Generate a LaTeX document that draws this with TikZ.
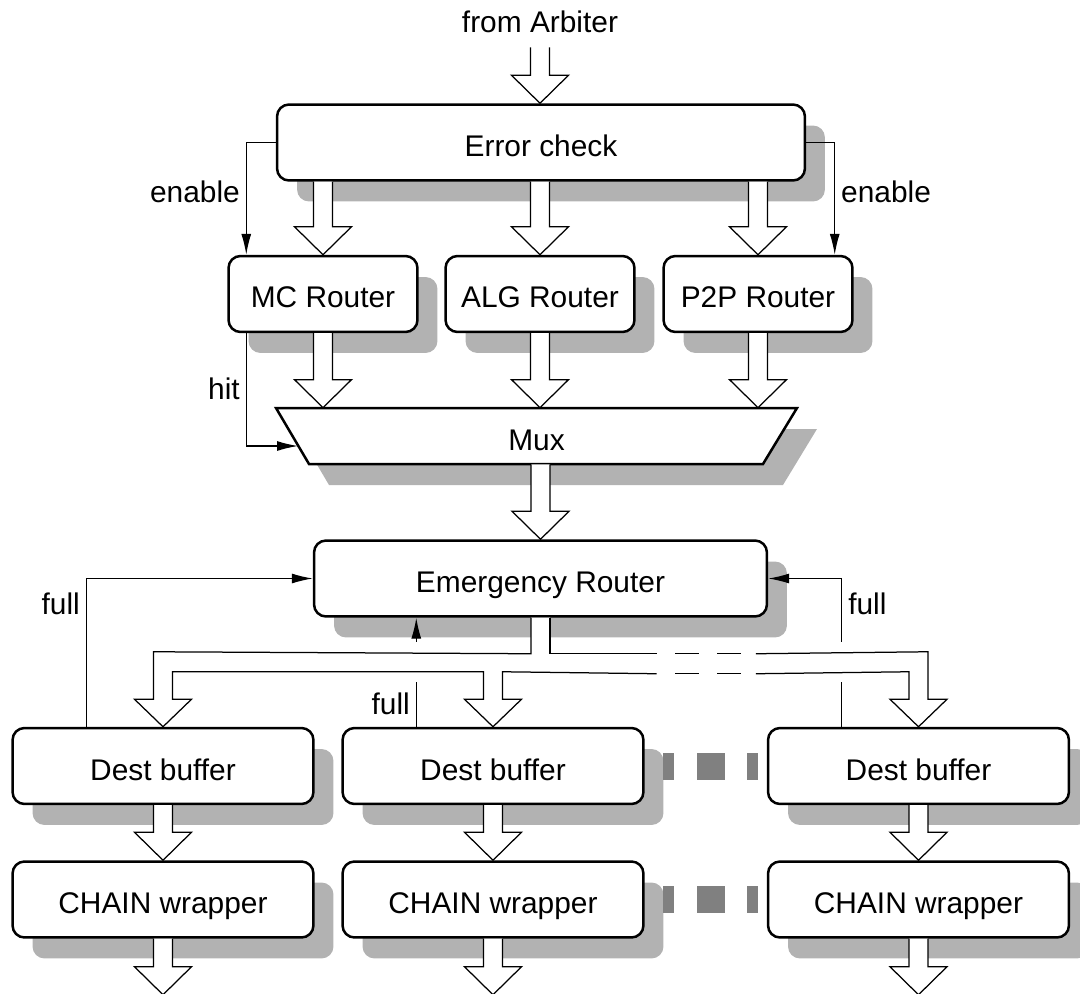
\documentclass[tikz,border=0pt]{standalone}
\usepackage{fontspec}
\setmainfont{Liberation Sans}
\usetikzlibrary{arrows.meta, calc, shadows}

\tikzset{
  box/.style={draw, line width=0.5mm, rounded corners=2.4mm, fill=white,
    minimum height=15.2mm, inner sep=0pt, text height=5.6mm, text depth=0mm,
    drop shadow={shadow xshift=4mm, shadow yshift=-4.2mm, fill=black!30, opacity=1}},
  sig/.style={line width=0.25mm},
  fat/.style={line width=0.25mm, fill=white},
  bushead/.style={insert path={-- ($(#1.north)+(-9.5,-27.5)$) -- ($(#1.north)+(-28.5,-27.5)$)
    -- (#1.north) -- ($(#1.north)+(28.5,-27.5)$) -- ($(#1.north)+(9.5,-27.5)$)}}
}

% hollow arrow, #2 must lie straight below #1
\newcommand{\fatarrow}[2]{%
  \draw[fat] ($(#1)+(-9.5,0)$) -- ($(#2)+(-9.5,-28)$) -- ($(#2)+(-28.5,-28)$) -- (#2)
    -- ($(#2)+(28.5,-28)$) -- ($(#2)+(9.5,-28)$) -- ($(#1)+(9.5,0)$);}

\begin{document}
\begin{tikzpicture}[x=0.02cm, y=-0.02cm, >={Latex[length=4.2mm,width=2mm]},
  font=\fontsize{17}{20}\selectfont]

\useasboundingbox (0,0) rectangle (1080,994);

\node (arbtxt) at (540,22) {from Arbiter};
\node[box, minimum width=105.6mm] (ec) at (541,142.5) {Error check};

\node[box, minimum width=37.8mm] (mc) at (323,294) {MC Router};
\node[box, minimum width=37.8mm] (alg) at (540,294) {ALG Router};
\node[box, minimum width=37.8mm] (p2p) at (758,294) {P2P Router};

\node[box, minimum width=90.6mm] (er) at (540.5,578.5) {Emergency Router};

\foreach \i/\x in {1/163, 2/493, 3/918.5} {
  \node[box, minimum width=60.2mm] (db\i) at (\x,766) {Dest buffer};
  \node[box, minimum width=60.2mm] (cw\i) at (\x,899.5) {CHAIN wrapper};
  \coordinate (out\i) at ($(cw\i.south)+(0,56)$);
}

% more columns
\foreach \y in {766.5, 899.5}
  \foreach \a/\b in {663/674, 697/725, 747/758}
    \fill[black!50] (\a,\y-13.5) rectangle (\b,\y+13.5);

% mux
\fill[black!30] (296,429) -- (817,429) -- (783,485) -- (329,485) -- cycle;
\draw[fill=white, line width=0.5mm] (276,408) -- (797,408) -- (763,464) -- (309,464) -- cycle;
\node[minimum width=104.2mm, minimum height=11.2mm, text height=5.6mm, text depth=0mm] (mux) at (536.5,436) {Mux};

\coordinate (arb) at ($(ec.north)+(-1,-56)$);
\fatarrow{arb}{arb |- ec.north}
\foreach \r in {mc, alg, p2p} {
  \fatarrow{ec.south -| \r.north}{\r.north}
  \fatarrow{\r.south}{\r.south |- mux.north}
}
\fatarrow{mux.south -| er.north}{er.north}
\foreach \i in {1,2,3} {
  \fatarrow{db\i.south}{cw\i.north}
  \fatarrow{cw\i.south}{out\i}
}

% bus from Emergency Router
\coordinate (outer) at ($(er.south)+(0,36)$);
\coordinate (inner) at ($(er.south)+(0,56)$);
\coordinate (gapA) at ($(db2.north east)+(12,0)$);
\coordinate (gapB) at ($(db3.north west)+(-11,0)$);

\fill[white] ($(er.south)+(-9.5,0)$) -- ($(er.south)+(-9.5,36)$) -- ($(db1.north)+(-9.5,-75)$) [bushead=db1]
  -- ($(db1.north)+(9.5,-55)$) -- ($(db2.north)+(-9.5,-55)$) [bushead=db2]
  -- ($(db2.north)+(9.5,-55)$) -- ($(db3.north)+(-9.5,-55)$) [bushead=db3]
  -- ($(db3.north)+(9.5,-75)$) -- ($(er.south)+(9.5,36)$) -- ($(er.south)+(9.5,0)$) -- cycle;
\draw[sig] ($(er.south)+(-9.5,0)$) -- ($(er.south)+(-9.5,36)$) -- ($(db1.north)+(-9.5,-75)$) [bushead=db1]
  -- ($(db1.north)+(9.5,-55)$) -- ($(db2.north)+(-9.5,-55)$) [bushead=db2]
  -- ($(db2.north)+(9.5,-55)$) -- (gapA |- inner);
\draw[sig] ($(er.south)+(9.5,0)$) -- ($(er.south)+(9.5,36)$) -- (gapA |- outer);
\draw[sig] (gapB |- inner) -- ($(db3.north)+(-9.5,-55)$) [bushead=db3]
  -- ($(db3.north)+(9.5,-75)$) -- (gapB |- outer);
\draw[sig, dash pattern=on 4.7mm off 3.7mm, dash phase=4.7mm]
  (gapA |- outer) -- (gapB |- outer) (gapA |- inner) -- (gapB |- inner);

% control signals
\draw[sig, ->] (ec.west) -| node[pos=0.72, left] {enable} ($(mc.north west)+(19,0)$);
\draw[sig, ->] (ec.east) -| node[pos=0.72, right] {enable} ($(p2p.north east)+(-19,0)$);
\draw[sig, ->] ($(mc.south west)+(19,0)$) |- node[pos=0.245, left] {hit} (298,446);

\draw[sig, ->] ($(db1.north west)+(75,0)$) |- node[pos=0.415, left] {full} (er.west);
\draw[sig] ($(db2.north west)+(75,0)$) -- node[left] {full} +(0,-45);
\draw[sig, ->] ($(db2.north west)+(75,-85)$) coordinate (m) -- (m |- er.south);
\draw[sig] ($(db3.north west)+(75,0)$) -- +(0,-45);
\draw[sig, ->] ($(db3.north west)+(75,-85)$) |- node[pos=0.3, right] {full} (er.east);

\end{tikzpicture}
\end{document}
